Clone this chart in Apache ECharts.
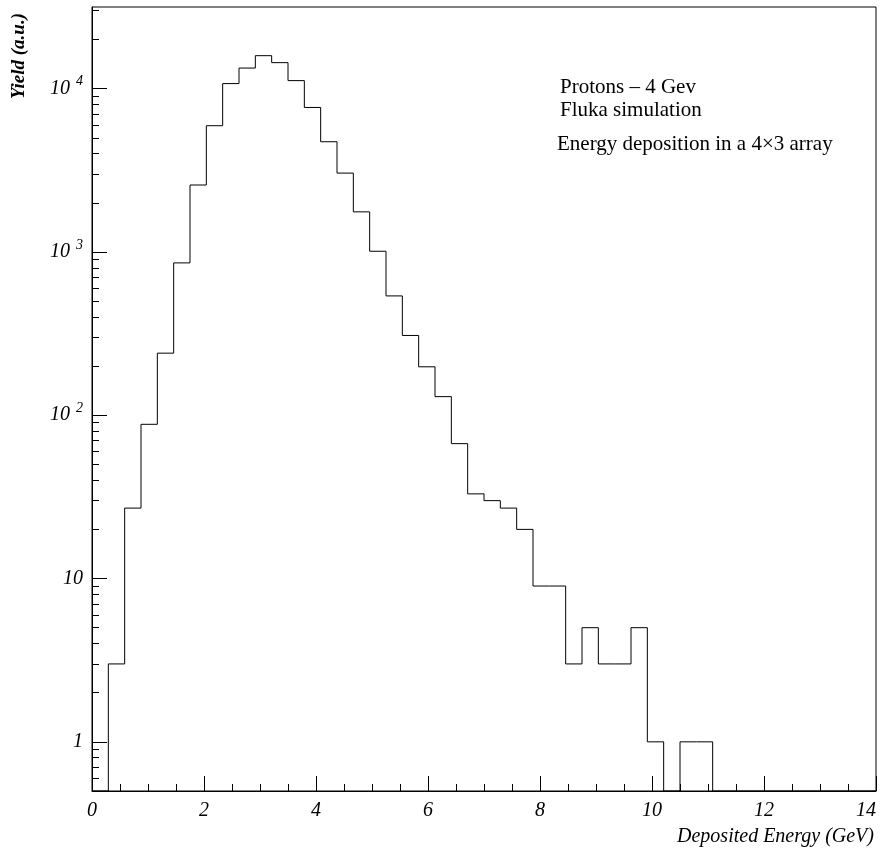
<!DOCTYPE html>
<html>
<head>
<meta charset="utf-8">
<script src="https://cdn.jsdelivr.net/npm/echarts@6/dist/echarts.min.js"></script>
<style>html,body{margin:0;padding:0;background:#fff;}#chart{width:883px;height:851px;}</style>
</head>
<body>
<div id="chart"></div>
<script>
// ---- data ----
const xMin = 0, xMax = 14, nBins = 48;
const yMin = 0.5, yMax = 31623;
// Yield per bin (bin width = 14/48 GeV)
const yieldCounts = [
  0, 3, 27, 88, 240, 857, 2570, 5930, 10740, 13370,
  15920, 14430, 11200, 7670, 4730, 3040, 1760, 1010, 538, 308,
  198, 130, 67, 33, 30, 27, 20, 9, 9, 3,
  5, 3, 3, 5, 1, 0, 1, 1, 0, 0,
  0, 0, 0, 0, 0, 0, 0, 0
];
const yMajorTicks = [1, 10, 100, 1000, 10000];
const yMinorTicks = [0.6, 0.7, 0.8, 0.9,
  2, 3, 4, 5, 6, 7, 8, 9,
  20, 30, 40, 50, 60, 70, 80, 90,
  200, 300, 400, 500, 600, 700, 800, 900,
  2000, 3000, 4000, 5000, 6000, 7000, 8000, 9000,
  20000, 30000];
const xTickInterval = 2;
const annotations = ['Protons \u2013 4 Gev', 'Fluka simulation', 'Energy deposition in a 4\u00d73 array'];
const xTitle = 'Deposited Energy (GeV)';
const yTitle = 'Yield (a.u.)';

// ---- build ----
const binWidth = (xMax - xMin) / nBins;
const histPts = yieldCounts.map((v, i) => [xMin + i * binWidth, Math.max(v, yMin)]);
histPts.push([xMax, yMin]);

const serif = '"Liberation Serif", "Times New Roman", serif';

const chart = echarts.init(document.getElementById('chart'), null, {renderer: 'canvas'});
chart.setOption({
  animation: false,
  backgroundColor: '#fff',
  grid: {left: 92, right: 7, top: 7, bottom: 60, containLabel: false, outerBoundsMode: 'none',
         show: true, borderColor: '#000', borderWidth: 1, backgroundColor: 'transparent'},
  xAxis: {
    type: 'value', min: xMin, max: xMax, interval: xTickInterval,
    axisLine: {show: true, lineStyle: {color: '#000', width: 1}},
    axisTick: {show: true, inside: true, length: 15, lineStyle: {color: '#000'}},
    minorTick: {show: true, splitNumber: 4, length: 7, lineStyle: {color: '#000'}},
    splitLine: {show: false},
    axisLabel: {margin: 10, fontFamily: serif, fontStyle: 'italic', fontSize: 20, color: '#000', alignMaxLabel: 'right'}
  },
  yAxis: [{
    type: 'log', logBase: 10, min: yMin, max: yMax, position: 'left', offset: 0,
    axisLine: {show: true, lineStyle: {color: '#000', width: 1}},
    axisTick: {show: true, inside: true, length: 15, customValues: yMajorTicks, lineStyle: {color: '#000'}},
    splitLine: {show: false},
    minorTick: {show: false},
    axisLabel: {
      margin: 9, customValues: yMajorTicks, fontFamily: serif, fontStyle: 'italic', fontSize: 20, color: '#000',
      formatter: function (v) {
        const e = Math.round(Math.log10(v));
        if (e === 0) return '1';
        if (e === 1) return '10';
        return '{b|10}{e|' + e + '}';
      },
      rich: {
        b: {fontFamily: serif, fontStyle: 'italic', fontSize: 20, color: '#000', verticalAlign: 'middle'},
        e: {fontFamily: serif, fontStyle: 'italic', fontSize: 14, color: '#000', verticalAlign: 'top', padding: [0, 0, 14, 6]}
      }
    }
  }, {
    type: 'log', logBase: 10, min: yMin, max: yMax, position: 'left', offset: 0,
    axisLine: {show: false},
    axisTick: {show: true, inside: true, length: 7, customValues: yMinorTicks, lineStyle: {color: '#000'}},
    axisLabel: {show: false},
    splitLine: {show: false}
  }],
  graphic: [
    {type: 'text', x: 560, y: 87, style: {text: annotations[0], font: '21px ' + serif, fill: '#000', align: 'left', verticalAlign: 'middle'}},
    {type: 'text', x: 560, y: 110, style: {text: annotations[1], font: '21px ' + serif, fill: '#000', align: 'left', verticalAlign: 'middle'}},
    {type: 'text', x: 557, y: 144, style: {text: annotations[2], font: '21px ' + serif, fill: '#000', align: 'left', verticalAlign: 'middle'}},
    {type: 'text', x: 874, y: 837, style: {text: xTitle, font: 'italic 20px ' + serif, fill: '#000', align: 'right', verticalAlign: 'middle'}},
    {type: 'text', x: 19, y: 56, rotation: Math.PI / 2, style: {text: yTitle, font: 'italic bold 19px ' + serif, fill: '#000', align: 'center', verticalAlign: 'middle'}}
  ],
  series: [{
    type: 'line', xAxisIndex: 0, yAxisIndex: 0,
    step: 'end', symbol: 'none', silent: true,
    lineStyle: {color: '#000', width: 1},
    data: histPts
  }]
});
</script>
</body>
</html>
